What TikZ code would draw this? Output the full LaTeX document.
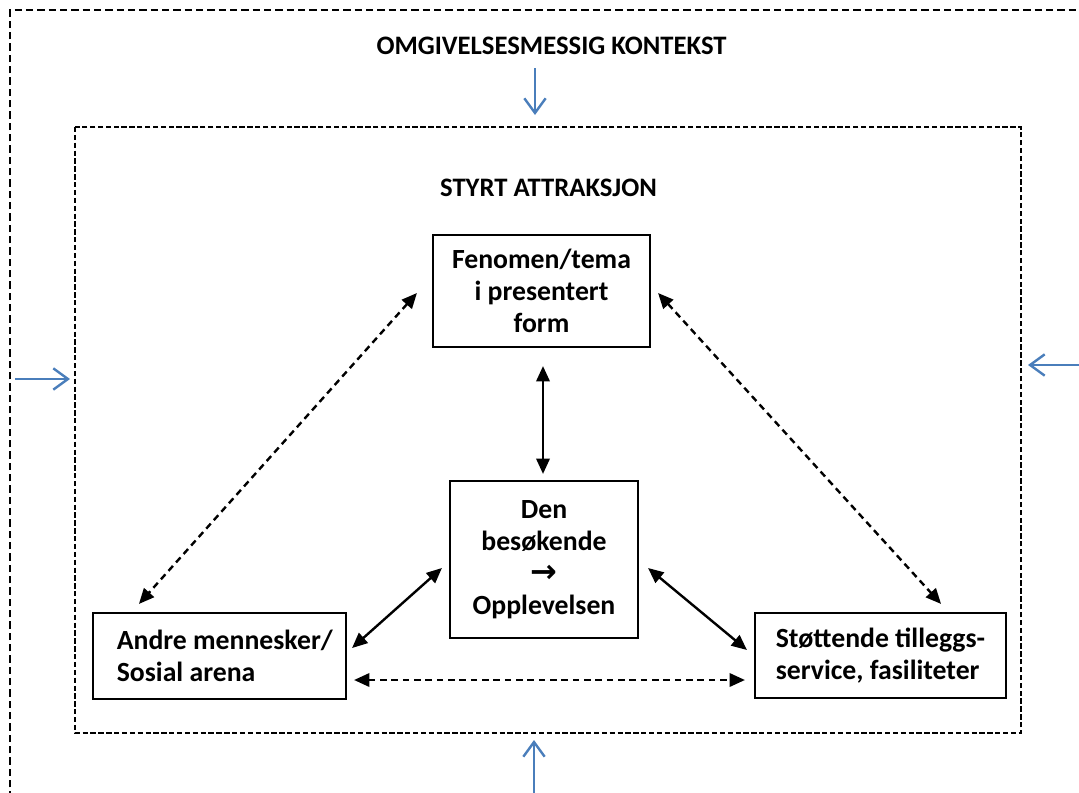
\documentclass[tikz,border=0pt]{standalone}
\usepackage{fontspec}
\setmainfont{Carlito}
\newfontfamily\symfont{DejaVu Sans}
\usetikzlibrary{arrows.meta,calc}
\definecolor{ablue}{HTML}{4A7EBB}
\begin{document}
\begin{tikzpicture}[x=0.75pt,y=-0.75pt,
  txt/.style={font=\bfseries\fontsize{20.8}{24}\selectfont},
  title/.style={font=\bfseries\fontsize{20}{24}\selectfont, inner sep=0},
  box/.style={draw, line width=1.6pt, inner sep=0, align=center, txt},
  lbox/.style={draw, line width=1.6pt, inner sep=0, align=left, txt},
  outerbox/.style={line width=1.7pt, dash pattern=on 5.5pt off 3pt},
  innerbox/.style={line width=1.6pt, dash pattern=on 4pt off 1.9pt},
  solidarrow/.style={line width=1.8pt, {Triangle[length=11.5pt,width=10pt]}-{Triangle[length=11.5pt,width=10pt]}},
  dasharrow/.style={solidarrow, dash pattern=on 5pt off 3.5pt},
  bluearrow/.style={ablue, line width=1.8pt, -{Straight Barb[length=11pt,width=16pt]}}
]
\useasboundingbox (0,0) rectangle (1079,793);
\clip (0,0) rectangle (1079,793);
% outer and inner frames
\draw[outerbox] (10,810) -- (10,10) -- (1100,10);
\draw[innerbox] (75,127) rectangle (1021,733);
% titles
\node[title] (omg) at (551.5,46) {OMGIVELSESMESSIG KONTEKST};
\node[title] (styrt) at (548.5,188) {STYRT ATTRAKSJON};
% boxes
\node[box, minimum width=162.75pt, minimum height=84pt] (fen) at (541.5,291)
  {Fenomen/tema\\i presentert\\form};
\node[box, minimum width=141pt, minimum height=117.75pt] (den) at (544,559.5)
  {Den\\besøkende\\{\symfont\bfseries\fontsize{24}{24}\selectfont →}\\Opplevelsen};
\node[lbox, minimum width=189.75pt, minimum height=64.5pt] (andre) at (219.5,656)
  {\hspace*{8pt}Andre mennesker/\\\hspace*{8pt}Sosial arena};
\node[lbox, minimum width=188.25pt, minimum height=63.75pt] (stot) at (880.5,655.5)
  {Støttende tilleggs-\\service, fasiliteter};
% connectors
\draw[solidarrow] ($(fen.south)+(1.5,18)$) -- ($(den.north)+(-1,-6)$);
\draw[dasharrow] ($(fen.west)+(-15,2)$) -- ($(andre.north west)+(47,-8)$);
\draw[dasharrow] ($(fen.east)+(7,2)$) -- ($(stot.north east)+(-66,-8)$);
\draw[solidarrow] ($(den.west)+(-7,8.5)$) -- ($(andre.east)+(5,-8)$);
\draw[solidarrow] ($(den.east)+(9,8.5)$) -- ($(stot.west)+(-7,-5.5)$);
\draw[dasharrow] ($(andre.east)+(7,24)$) -- ($(stot.west)+(-9,24.5)$);
% blue context arrows
\coordinate (tA) at (535,68);  \coordinate (tB) at (535,115);
\coordinate (lA) at (15,379);  \coordinate (lB) at (70,379);
\coordinate (rA) at (1079,365); \coordinate (rB) at (1028,365);
\coordinate (bA) at (534,793); \coordinate (bB) at (534,740);
\draw[bluearrow] (tA) -- (tB);
\draw[bluearrow] (lA) -- (lB);
\draw[bluearrow] (rA) -- (rB);
\draw[bluearrow] (bA) -- (bB);
\end{tikzpicture}
\end{document}
